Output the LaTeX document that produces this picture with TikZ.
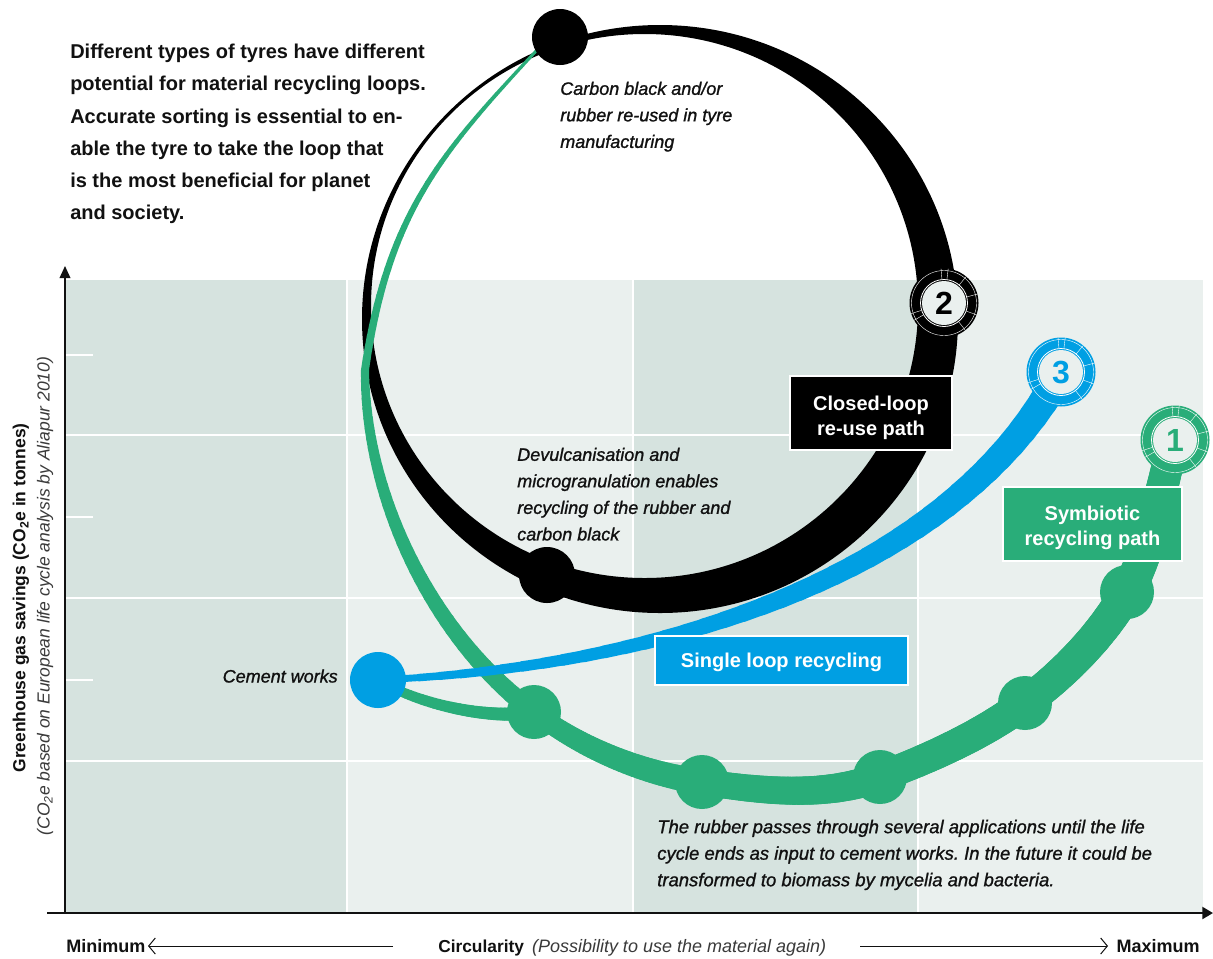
\documentclass[tikz,border=0pt]{standalone}
\usepackage{fontspec}
\setmainfont{Liberation Sans}
\newfontfamily\notefont{Liberation Sans}[FakeBold=1.1]
\usetikzlibrary{arrows.meta,calc}
\definecolor{gr}{HTML}{29AD79}
\definecolor{bl}{HTML}{009FE3}
\definecolor{bgd}{HTML}{D6E3DF}
\definecolor{bgl}{HTML}{EAF0EE}
\definecolor{ink}{HTML}{111111}
\definecolor{soft}{HTML}{3A3A3A}
\frenchspacing

% tapered cubic band between named coordinates
\newcommand\mytaper[7]{%
 \path (#1); \pgfgetlastxy{\tax}{\tay}%
 \path (#2); \pgfgetlastxy{\tbx}{\tby}%
 \path (#3); \pgfgetlastxy{\tcx}{\tcy}%
 \path (#4); \pgfgetlastxy{\tdx}{\tdy}%
 \foreach \i in {1,...,40}{%
  \pgfmathsetmacro\ta{(\i-1)/40}%
  \pgfmathsetmacro\tb{\i/40}%
  \pgfmathsetmacro\xa{(1-\ta)^3*\tax+3*(1-\ta)^2*\ta*\tbx+3*(1-\ta)*\ta^2*\tcx+\ta^3*\tdx}%
  \pgfmathsetmacro\ya{(1-\ta)^3*\tay+3*(1-\ta)^2*\ta*\tby+3*(1-\ta)*\ta^2*\tcy+\ta^3*\tdy}%
  \pgfmathsetmacro\xb{(1-\tb)^3*\tax+3*(1-\tb)^2*\tb*\tbx+3*(1-\tb)*\tb^2*\tcx+\tb^3*\tdx}%
  \pgfmathsetmacro\yb{(1-\tb)^3*\tay+3*(1-\tb)^2*\tb*\tby+3*(1-\tb)*\tb^2*\tcy+\tb^3*\tdy}%
  \pgfmathsetmacro\ww{0.75*(#5+(#6-#5)*(\ta+\tb)/2)}%
  \draw[#7,line width=\ww pt,line cap=round] (\xa pt,\ya pt) -- (\xb pt,\yb pt);
 }}

% #1 name, #2 position, #3 colour, #4 number
\newcommand\mybadge[4]{%
 \node[circle, fill=#3, inner sep=0pt, minimum size=51.75pt] (#1) at (#2) {};
 \fill[bgl] (#1.center) circle (22);
 \draw[white, line width=0.6pt] (#1.center) circle (23.5);
 \draw[white, line width=0.3pt] (#1.center) circle (32.5);
 \foreach \a in {-95,-83,-50,-15,20,52,150,-198}{\draw[white, line width=0.3pt] ($(#1.center)+(\a:23.5)$) -- ($(#1.center)+(\a:34.5)$);}
 \node[font=\fontsize{24}{24}\selectfont\bfseries, text=#3, inner sep=0pt] (#1t) at (#1.center) {#4};}

\tikzset{
 gdot/.style={circle, fill=gr, inner sep=0pt, minimum size=40.5pt},
 kdot/.style={circle, fill=black, inner sep=0pt, minimum size=42pt},
 lbox/.style={draw=white, line width=1.5pt, inner sep=0pt},
 ltext/.style={text=white, font=\fontsize{15}{18.75}\selectfont\bfseries, align=center, inner sep=0pt},
 note/.style={font=\notefont\itshape\fontsize{13.5}{19.9}\selectfont, text=ink, align=left, inner sep=0pt, anchor=north west},
}

\begin{document}
\begin{tikzpicture}[x=0.75pt,y=-0.75pt]
\useasboundingbox (0,0) rectangle (1213,958);
\fill[white] (0,0) rectangle (1213,958);

% chart background
\fill[bgl] (65,280) rectangle (1203,913);
\fill[bgd] (65,280) rectangle (347,913);
\fill[bgd] (633,280) rectangle (918,913);
\foreach \xx in {347,633,918} \draw[white, line width=1.5pt] (\xx,280) -- (\xx,912);
\foreach \yy in {435,598,761} \draw[white, line width=1.4pt] (65,\yy) -- (1203,\yy);
\foreach \yy in {355,517,680} \draw[white, line width=1.2pt] (65,\yy) -- (93,\yy);

% axes
\coordinate (orig) at (65,913);
\coordinate (ytip) at (65,266);
\coordinate (xst) at (47,913);
\coordinate (xtip) at (1213,913);
\draw[ink, line width=1.1pt, -{Triangle[length=9pt,width=8pt]}] (orig) -- (ytip);
\draw[ink, line width=1.6pt, -{Triangle[length=8pt,width=9pt]}] (xst) -- (xtip);

% closed loop (black)
\fill[black, even odd rule] (660,319) ellipse [x radius=298, y radius=294]
  (644.5,306) ellipse [x radius=273.5, y radius=272];

% key positions
\coordinate (cTop) at (560,37);
\coordinate (cBot) at (547,575);
\coordinate (cCem) at (378,680);
\coordinate (cN1) at (534,712);
\coordinate (cN2) at (702,782);
\coordinate (cN3) at (880,777);
\coordinate (cN4) at (1025,703);
\coordinate (cN5) at (1127,592);
\coordinate (cB1) at (1175,440);
\coordinate (cB2) at (944,303);
\coordinate (cB3) at (1061,372);

% green path control points
\coordinate (g0) at (537,50);
\coordinate (g0a) at (440.8,153.3);
\coordinate (g0b) at (388,213);
\coordinate (gL) at (365,370);
\coordinate (gLa) at (365,497);
\coordinate (gLb) at (432,636);
\coordinate (g1a) at (583,749);
\coordinate (g1b) at (642,773);
\coordinate (g2a) at (761,791);
\coordinate (g2b) at (825,798);
\coordinate (g3a) at (930.5,758);
\coordinate (g3b) at (982,735);
\coordinate (g4a) at (1065,673);
\coordinate (g4b) at (1102,635.5);
\coordinate (g5a) at (1153.5,546);
\coordinate (g5b) at (1159,490);
\coordinate (gDa) at (420,705);
\coordinate (gDb) at (490,720);
% blue control points
\coordinate (b1a) at (650,668);
\coordinate (b1b) at (950,580);

% symbiotic recycling path (green)
\mytaper{g0}{g0a}{g0b}{gL}{3}{8}{gr}
\mytaper{gL}{gLa}{gLb}{cN1}{8}{19}{gr}
\mytaper{cN1}{g1a}{g1b}{cN2}{19}{26}{gr}
\mytaper{cN2}{g2a}{g2b}{cN3}{26}{30}{gr}
\mytaper{cN3}{g3a}{g3b}{cN4}{30}{32}{gr}
\mytaper{cN4}{g4a}{g4b}{cN5}{32}{34}{gr}
\mytaper{cN5}{g5a}{g5b}{cB1}{34}{31}{gr}
\mytaper{cCem}{gDa}{gDb}{cN1}{9}{14}{gr}

% single loop recycling (blue)
\mytaper{cCem}{b1a}{b1b}{cB3}{6}{30}{bl}

% dots
\node[kdot] (top) at (cTop) {};
\node[kdot] (bot) at (cBot) {};
\node[circle, fill=bl, inner sep=0pt, minimum size=42pt] (cem) at (cCem) {};
\node[gdot] (n1) at (cN1) {};
\node[gdot] (n2) at (cN2) {};
\node[gdot] (n3) at (cN3) {};
\node[gdot] (n4) at (cN4) {};
\node[gdot] (n5) at (cN5) {};

% numbered badges
\mybadge{b2}{cB2}{black}{2}
\mybadge{b3}{cB3}{bl}{3}
\mybadge{b1}{cB1}{gr}{1}

% path labels
\node[lbox, fill=black, minimum width=121.5pt, minimum height=55.5pt] (closed) at (871,413) {};
\node[ltext] (closedt) at ([yshift=-3.5pt]closed.center) {Closed-loop\\re-use path};
\node[lbox, fill=gr, minimum width=134.25pt, minimum height=55.5pt] (symb) at (1092.5,524) {};
\node[ltext] (symbt) at ([yshift=-3pt]symb.center) {Symbiotic\\recycling path};
\node[lbox, fill=bl, minimum width=189.75pt, minimum height=36.75pt] (single) at (781.5,660.5) {};
\node[ltext] (singlet) at ([yshift=-1.5pt]single.center) {Single loop recycling};

% texts
\node[font=\fontsize{15}{24.15}\selectfont\bfseries, text=ink, align=left, inner sep=0pt, anchor=north west] (intro) at (70,44)
 {Different types of tyres have different\\potential for material recycling loops.\\Accurate sorting is essential to en-\\able the tyre to take the loop that\\is the most beneficial for planet\\and society.};
\node[note] (carbon) at (560,81.5) {Carbon black and/or\\rubber re-used in tyre\\manufacturing};
\node[note] (devul) at (517,447.5) {Devulcanisation and\\microgranulation enables\\recycling of the rubber and\\carbon black};
\node[note, font=\notefont\itshape\fontsize{13.85}{19.9}\selectfont] (rubber) at (657,819.5) {The rubber passes through several applications until the life\\cycle ends as input to cement works. In the future it could be\\transformed to biomass by mycelia and bacteria.};
\node[font=\notefont\itshape\fontsize{13.5}{16}\selectfont, text=ink, inner sep=0pt, anchor=base east] (cemlab) at (338,682.5) {Cement works};

% y axis labels
\node[rotate=90, font=\fontsize{13.1}{16}\selectfont\bfseries, text=ink, inner sep=0pt] (ylab) at (21,598) {Greenhouse gas savings (CO\textsubscript{2}e in tonnes)};
\node[rotate=90, font=\fontsize{13.1}{16}\selectfont\itshape, text=soft, inner sep=0pt] (ylab2) at (45,596) {(CO\textsubscript{2}e based on European life cycle analysis by Aliapur 2010)};

% x axis labels
\node[font=\fontsize{13.5}{16}\selectfont\bfseries, text=ink, inner sep=0pt, anchor=base west] (minl) at (66,952.5) {Minimum};
\node[font=\fontsize{13.5}{16}\selectfont\bfseries, text=ink, inner sep=0pt, anchor=base east] (maxl) at (1200,952.5) {Maximum};
\node[font=\fontsize{13}{16}\selectfont, text=ink, inner sep=0pt, anchor=base west] (circ) at (438,952.5)
 {\textbf{Circularity}\hspace{6pt}{\itshape\fontsize{13.5}{16}\selectfont\color{soft}(Possibility to use the material again)}};
\coordinate (la) at (393,946);
\coordinate (lb) at (148,946);
\coordinate (ra) at (860,946);
\coordinate (rb) at (1108,946);
\draw[ink, line width=0.75pt, -{Straight Barb[length=5pt,width=12pt]}] (la) -- (lb);
\draw[ink, line width=0.75pt, -{Straight Barb[length=5pt,width=12pt]}] (ra) -- (rb);
\end{tikzpicture}
\end{document}
